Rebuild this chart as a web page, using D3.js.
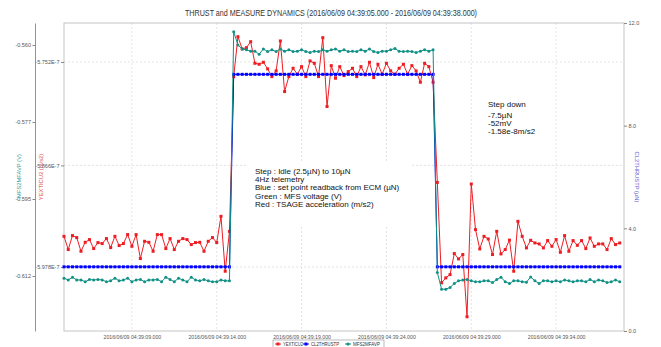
<!DOCTYPE html>
<html>
<head>
<meta charset="utf-8">
<script src="https://cdn.jsdelivr.net/npm/d3@7"></script>
<style>
  html, body { margin: 0; padding: 0; background: #fff; }
  svg { display: block; font-family: "Liberation Sans", Arial, sans-serif; }
</style>
</head>
<body>
<svg id="chart" width="661" height="347"></svg>
<script>
// ---- Data (4 Hz telemetry, 2016/06/09 04:39:05.000 .. 04:39:38.000) ----
const startTime = new Date(2016, 5, 9, 4, 39, 5, 0);
const endTime = new Date(2016, 5, 9, 4, 39, 38, 0);
const sampleMs = 250;

// YEXTICU2: TSAGE acceleration, in units of 1e-7 m/s2
const yexticu2 = [
  -5.9442, -5.9588, -5.9434, -5.9456, -5.9607, -5.9508, -5.9478, -5.9577, -5.9511, -5.9522,
  -5.9467, -5.9566, -5.9442, -5.9544, -5.9522, -5.9423, -5.9552, -5.9423, -5.9687, -5.9497,
  -5.9508, -5.9607, -5.9423, -5.9423, -5.9577, -5.9467, -5.9588, -5.9497, -5.9467, -5.9478,
  -5.9533, -5.9511, -5.9508, -5.9607, -5.9497, -5.9456, -5.9511, -5.9222, -5.9827, -5.9387,
  -5.7681, -5.7241, -5.7376, -5.7362, -5.7296, -5.7534, -5.7545, -5.7523, -5.7596, -5.7681,
  -5.7618, -5.7288, -5.7846, -5.7681, -5.7589, -5.7655, -5.7571, -5.7681, -5.7508, -5.7534,
  -5.7681, -5.7252, -5.8011, -5.7560, -5.7699, -5.7571, -5.7670, -5.7626, -5.7589, -5.7681,
  -5.7571, -5.7662, -5.7523, -5.7692, -5.7545, -5.7655, -5.7534, -5.7618, -5.7655, -5.7589,
  -5.7545, -5.7655, -5.7560, -5.7618, -5.7743, -5.7534, -5.7571, -5.7743,
  -5.8848, -5.9955, -5.9900, -5.9864, -5.9632, -5.9691, -5.9643, -6.0329, -5.8865, -5.9368,
  -5.9581, -5.9442, -5.9471, -5.9643, -5.9387, -5.9636, -5.9588, -5.9484, -5.9827, -5.9277,
  -5.9442, -5.9570, -5.9486, -5.9515, -5.9526, -5.9570, -5.9489, -5.9552, -5.9478, -5.9618,
  -5.9434, -5.9607, -5.9489, -5.9541, -5.9489, -5.9577, -5.9460, -5.9552, -5.9526, -5.9526,
  -5.9588, -5.9467, -5.9533, -5.9515
];

// CL2THRUSTP: thrust set point readback from ECM, µN
const cl2thrustp = [
  2.5, 2.5, 2.5, 2.5, 2.5, 2.5, 2.5, 2.5, 2.5, 2.5,
  2.5, 2.5, 2.5, 2.5, 2.5, 2.5, 2.5, 2.5, 2.5, 2.5,
  2.5, 2.5, 2.5, 2.5, 2.5, 2.5, 2.5, 2.5, 2.5, 2.5,
  2.5, 2.5, 2.5, 2.5, 2.5, 2.5, 2.5, 2.5, 2.5, 2.5,
  10, 10, 10, 10, 10, 10, 10, 10, 10, 10,
  10, 10, 10, 10, 10, 10, 10, 10, 10, 10,
  10, 10, 10, 10, 10, 10, 10, 10, 10, 10,
  10, 10, 10, 10, 10, 10, 10, 10, 10, 10,
  10, 10, 10, 10, 10, 10, 10, 10,
  2.5, 2.5, 2.5, 2.5, 2.5, 2.5, 2.5, 2.5, 2.5, 2.5,
  2.5, 2.5, 2.5, 2.5, 2.5, 2.5, 2.5, 2.5, 2.5, 2.5,
  2.5, 2.5, 2.5, 2.5, 2.5, 2.5, 2.5, 2.5, 2.5, 2.5,
  2.5, 2.5, 2.5, 2.5, 2.5, 2.5, 2.5, 2.5, 2.5, 2.5,
  2.5, 2.5, 2.5, 2.5
];

// MFS2MFAVP: MFS voltage, V
const mfs2mfavp = [
  -0.6130, -0.6134, -0.6128, -0.6134, -0.6134, -0.6138, -0.6133, -0.6134, -0.6133, -0.6134,
  -0.6138, -0.6136, -0.6130, -0.6136, -0.6134, -0.6130, -0.6138, -0.6134, -0.6133, -0.6138,
  -0.6134, -0.6134, -0.6133, -0.6138, -0.6128, -0.6133, -0.6138, -0.6130, -0.6134, -0.6138,
  -0.6128, -0.6134, -0.6136, -0.6133, -0.6136, -0.6138, -0.6138, -0.6134, -0.6136, -0.6136,
  -0.5570, -0.5600, -0.5609, -0.5611, -0.5614, -0.5614, -0.5621, -0.5609, -0.5615, -0.5611,
  -0.5615, -0.5609, -0.5614, -0.5611, -0.5615, -0.5614, -0.5611, -0.5615, -0.5617, -0.5614,
  -0.5615, -0.5611, -0.5614, -0.5611, -0.5609, -0.5614, -0.5611, -0.5615, -0.5614, -0.5615,
  -0.5611, -0.5614, -0.5609, -0.5615, -0.5617, -0.5614, -0.5614, -0.5611, -0.5608, -0.5614,
  -0.5615, -0.5614, -0.5615, -0.5617, -0.5614, -0.5611, -0.5614, -0.5611,
  -0.6117, -0.6155, -0.6155, -0.6151, -0.6142, -0.6136, -0.6134, -0.6133, -0.6136, -0.6138,
  -0.6138, -0.6136, -0.6136, -0.6140, -0.6133, -0.6128, -0.6138, -0.6142, -0.6136, -0.6136,
  -0.6138, -0.6139, -0.6127, -0.6136, -0.6142, -0.6136, -0.6136, -0.6138, -0.6136, -0.6138,
  -0.6134, -0.6136, -0.6138, -0.6136, -0.6136, -0.6138, -0.6133, -0.6138, -0.6134, -0.6136,
  -0.6140, -0.6138, -0.6134, -0.6138
];

// Axis ticks
const timeTickSeconds = [9, 14, 19, 24, 29, 34];
const timeTickLabels = [
  "2016/06/09 04:39:09.000", "2016/06/09 04:39:14.000", "2016/06/09 04:39:19.000",
  "2016/06/09 04:39:24.000", "2016/06/09 04:39:29.000", "2016/06/09 04:39:34.000"
];
const accelTicks = [-5.752, -5.866, -5.978];
const accelTickLabels = ["-5.752E-7", "-5.866E-7", "-5.978E-7"];
const voltTicks = [-0.56, -0.5775, -0.595, -0.6125];
const voltTickLabels = ["-0.560", "-0.577", "-0.595", "-0.612"];
const thrustTicks = [0, 4, 8, 12];
const thrustTickLabels = ["0.0", "4.0", "8.0", "12.0"];

const titleText = "THRUST and MEASURE DYNAMICS (2016/06/09 04:39:05.000 - 2016/06/09 04:39:38.000)";
const note1 = ["Step : Idle (2.5µN) to 10µN", "4Hz telemetry", "Blue : set point readback from ECM (µN)",
               "Green : MFS voltage (V)", "Red : TSAGE acceleration (m/s2)"];
const note2 = ["Step down", "-7.5µN", "-52mV", "-1.58e-8m/s2"];

// ---- Layout ----
const plot = { left: 64, right: 624, top: 23, bottom: 331 };
const colors = { red: "#ee1d23", blue: "#0000ff", teal: "#119186",
                 grid: "#dcdcdc", frame: "#c4c4c4", tick: "#555" };

const svg = d3.select("#chart");
const times = yexticu2.map((_, i) => new Date(+startTime + i * sampleMs));

const x = d3.scaleTime().domain([startTime, endTime]).range([plot.left, plot.right]);
const yAccel = d3.scaleLinear().domain([-6.0486, -5.7090]).range([plot.bottom, plot.top]);
const yVolt = d3.scaleLinear().domain([-0.625, -0.555]).range([plot.bottom, plot.top]);
const yThrust = d3.scaleLinear().domain([0, 12]).range([plot.bottom, plot.top]);

// Title
svg.append("text")
  .attr("x", 331).attr("y", 16)
  .attr("text-anchor", "middle")
  .attr("font-size", 8.2).attr("fill", "#333")
  .attr("textLength", 292).attr("lengthAdjust", "spacingAndGlyphs")
  .text(titleText);

// Gridlines
const tickTimes = timeTickSeconds.map(s => new Date(2016, 5, 9, 4, 39, s, 0));
svg.append("g").selectAll("line").data(tickTimes).join("line")
  .attr("x1", d => x(d)).attr("x2", d => x(d))
  .attr("y1", plot.top).attr("y2", plot.bottom)
  .attr("stroke", colors.grid).attr("stroke-dasharray", "2,2").attr("stroke-width", 0.8);
svg.append("g").selectAll("line").data(accelTicks).join("line")
  .attr("x1", plot.left).attr("x2", plot.right)
  .attr("y1", d => yAccel(d)).attr("y2", d => yAccel(d))
  .attr("stroke", colors.grid).attr("stroke-dasharray", "2,2").attr("stroke-width", 0.8);

// Plot frame
svg.append("rect")
  .attr("x", plot.left).attr("y", plot.top)
  .attr("width", plot.right - plot.left).attr("height", plot.bottom - plot.top)
  .attr("fill", "none").attr("stroke", colors.frame).attr("stroke-width", 1);

function styleAxis(g, color, keepDomain) {
  g.selectAll("text").attr("fill", colors.tick).attr("font-size", 5.5)
    .attr("font-family", "'Liberation Sans', Arial, sans-serif");
  g.selectAll(".tick line").attr("stroke", "#888");
  if (keepDomain) g.select(".domain").attr("stroke", color).attr("stroke-width", 1);
  else g.select(".domain").remove();
}

// Time axis
svg.append("g").attr("transform", `translate(0,${plot.bottom})`)
  .call(d3.axisBottom(x).tickValues(tickTimes).tickSize(0).tickPadding(4)
        .tickFormat((d, i) => timeTickLabels[i]))
  .call(g => styleAxis(g, null, false))
  .call(g => g.selectAll("text").attr("font-size", 5.2));

// Acceleration axis (inner left)
svg.append("g").attr("transform", `translate(${plot.left},0)`)
  .call(d3.axisLeft(yAccel).tickValues(accelTicks).tickSize(3).tickPadding(1.5)
        .tickFormat((d, i) => accelTickLabels[i]))
  .call(g => styleAxis(g, null, false));

// Voltage axis (outer left)
svg.append("g").attr("transform", "translate(35,0)")
  .call(d3.axisLeft(yVolt).tickValues(voltTicks).tickSize(2.5).tickSizeOuter(0).tickPadding(1.5)
        .tickFormat((d, i) => voltTickLabels[i]))
  .call(g => styleAxis(g, "#58aab6", true));

// Thrust axis (right)
svg.append("g").attr("transform", `translate(${plot.right},0)`)
  .call(d3.axisRight(yThrust).tickValues(thrustTicks).tickSize(3).tickPadding(1.5)
        .tickFormat((d, i) => thrustTickLabels[i]))
  .call(g => styleAxis(g, null, false));

// Axis titles
svg.append("text").attr("transform", "translate(21,176) rotate(-90)")
  .attr("text-anchor", "middle").attr("font-size", 5.8).attr("fill", "#2f9c9a")
  .text("MFS2MFAVP (V)");
svg.append("text").attr("transform", "translate(43,177) rotate(-90)")
  .attr("text-anchor", "middle").attr("font-size", 5.8).attr("fill", "#e0474c")
  .text("YEXTICU2 (m/s2)");
svg.append("text").attr("transform", "translate(635,177) rotate(90)")
  .attr("text-anchor", "middle").attr("font-size", 5.8).attr("fill", "#5a5ad0")
  .text("CL2THRUSTP (µN)");

// Annotation boxes (white background hides gridlines)
function note(lines, bx, by, bw, bh, tx, baselines) {
  svg.append("rect").attr("x", bx).attr("y", by).attr("width", bw).attr("height", bh).attr("fill", "#fff");
  svg.append("g").selectAll("text").data(lines).join("text")
    .attr("x", tx).attr("y", (d, i) => baselines[i])
    .attr("font-size", 8).attr("fill", "#111")
    .text(d => d);
}
note(note1, 248, 163, 164, 62, 255, [173.5, 182, 190, 198.5, 206.5]);
note(note2, 481, 95, 72, 43, 488, [107, 118, 126, 134]);

// Series
function drawSeries(values, yScale, color, marker) {
  const g = svg.append("g");
  g.append("path")
    .datum(values)
    .attr("fill", "none").attr("stroke", color).attr("stroke-width", 1)
    .attr("d", d3.line().x((d, i) => x(times[i])).y(d => yScale(d)));
  if (marker === "square") {
    g.selectAll("rect").data(values).join("rect")
      .attr("x", (d, i) => x(times[i]) - 1.5).attr("y", d => yScale(d) - 1.5)
      .attr("width", 3).attr("height", 3).attr("fill", color);
  } else {
    g.selectAll("circle").data(values).join("circle")
      .attr("cx", (d, i) => x(times[i])).attr("cy", d => yScale(d))
      .attr("r", 1.5).attr("fill", color);
  }
}
drawSeries(yexticu2, yAccel, colors.red, "square");
drawSeries(cl2thrustp, yThrust, colors.blue, "square");
drawSeries(mfs2mfavp, yVolt, colors.teal, "circle");

// Legend
const legendItems = [
  { name: "YEXTICU2", color: colors.red, x: 274, marker: "square", w: 20 },
  { name: "CL2THRUSTP", color: colors.blue, x: 302, marker: "square", w: 28 },
  { name: "MFS2MFAVP", color: colors.teal, x: 344, marker: "circle", w: 27 }
];
svg.append("rect").attr("x", 273).attr("y", 340).attr("width", 111).attr("height", 12)
  .attr("fill", "#fff").attr("stroke", "#aaa").attr("stroke-width", 0.8);
const lg = svg.append("g").selectAll("g").data(legendItems).join("g");
lg.append("line").attr("x1", d => d.x + 1).attr("x2", d => d.x + 7)
  .attr("y1", 344).attr("y2", 344).attr("stroke", d => d.color).attr("stroke-width", 1);
lg.filter(d => d.marker === "square").append("rect")
  .attr("x", d => d.x + 2.5).attr("y", 342.5).attr("width", 3).attr("height", 3).attr("fill", d => d.color);
lg.filter(d => d.marker === "circle").append("circle")
  .attr("cx", d => d.x + 4).attr("cy", 344).attr("r", 1.6).attr("fill", d => d.color);
lg.append("text").attr("x", d => d.x + 9).attr("y", 346)
  .attr("font-size", 5).attr("fill", "#333")
  .attr("textLength", d => d.w).attr("lengthAdjust", "spacingAndGlyphs")
  .text(d => d.name);
</script>
</body>
</html>
